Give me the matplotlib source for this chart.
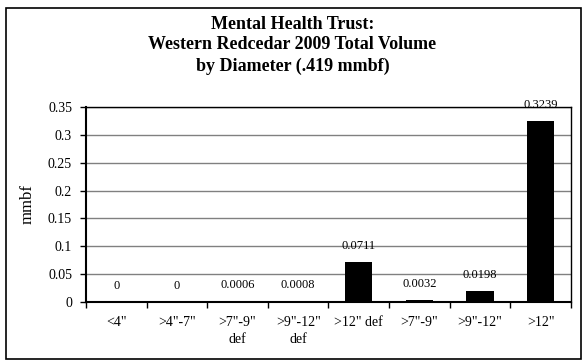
import numpy as np
import matplotlib.pyplot as plt
from matplotlib.patches import Rectangle

categories = ['<4"', '>4"-7"', '>7"-9"\ndef', '>9"-12"\ndef', '>12" def',
              '>7"-9"', '>9"-12"', '>12"']
values = [0, 0, 0.0006, 0.0008, 0.0711, 0.0032, 0.0198, 0.3239]
labels = ['0', '0', '0.0006', '0.0008', '0.0711', '0.0032', '0.0198', '0.3239']
yticks = [0, 0.05, 0.1, 0.15, 0.2, 0.25, 0.3, 0.35]
ytick_labels = ['0', '0.05', '0.1', '0.15', '0.2', '0.25', '0.3', '0.35']

plt.rcParams['font.family'] = ['Liberation Serif', 'DejaVu Serif']

fig = plt.figure(figsize=(5.85, 3.6), dpi=100)
ax = fig.add_axes([0.147, 0.161, 0.829, 0.542])

x = np.arange(len(categories))
ax.bar(x, values, width=0.45, color='black', zorder=3)

# data labels sit a little above each bar
for xi, v, lab in zip(x, values, labels):
    ax.annotate(lab, (xi, v), xytext=(0, 7.5), textcoords='offset points',
                ha='center', va='bottom', fontsize=9)

ax.set_xlim(-0.5, len(categories) - 0.5)
ax.set_ylim(0, 0.35)
ax.set_yticks(yticks)
ax.set_yticklabels(ytick_labels, fontsize=10)
ax.yaxis.grid(True, color='#808080', lw=1, zorder=0)

ax.set_xticks(x)
ax.set_xticklabels(categories, fontsize=10, linespacing=1.45)
ax.tick_params(axis='x', length=0, pad=10)
ax.set_xticks(np.arange(-0.5, len(categories)), minor=True)
ax.tick_params(axis='x', which='minor', length=4, width=1, direction='out')
ax.tick_params(axis='y', length=4, width=1, direction='out', pad=6)

for s in ax.spines.values():
    s.set_linewidth(1)
ax.spines['left'].set_linewidth(1.5)
ax.spines['bottom'].set_linewidth(1.5)

ax.set_ylabel('mmbf', fontsize=12, labelpad=9)

fig.text(0.5, 0.956, 'Mental Health Trust:\nWestern Redcedar 2009 Total Volume\nby Diameter (.419 mmbf)',
         ha='center', va='top', fontsize=13, fontweight='bold', linespacing=1.28)

fig.patches.append(Rectangle((0.011, 0.004), 0.983, 0.974, transform=fig.transFigure,
                             fill=False, edgecolor='black', lw=1.2))

fig.savefig('out.png', dpi=100)
